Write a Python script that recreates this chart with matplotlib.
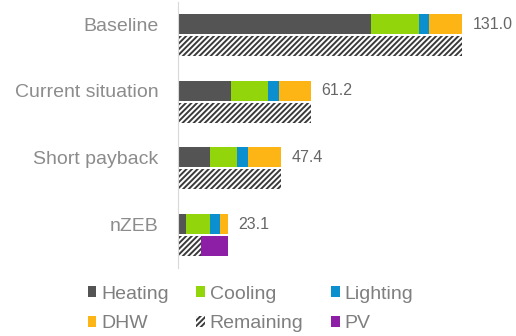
import matplotlib
matplotlib.use("Agg")
import matplotlib.pyplot as plt
import numpy as np

plt.rcParams['font.family'] = ['Liberation Sans', 'DejaVu Sans']
plt.rcParams['hatch.linewidth'] = 1.4

# data (kWh/m2 per year)
scenarios = ["Baseline", "Current situation", "Short payback", "nZEB"]
heating = [89.0, 24.6, 14.8, 3.6]
cooling = [22.1, 16.9, 12.5, 11.0]
lighting = [4.6, 4.9, 5.1, 5.0]
dhw = [15.3, 14.8, 15.0, 3.5]
remaining = [131.0, 61.2, 47.4, 10.8]
pv = [0.0, 0.0, 0.0, 12.3]
totals = [131.0, 61.2, 47.4, 23.1]

c_heat = "#545454"
c_cool = "#92d50a"
c_light = "#0b8fcf"
c_dhw = "#fdb515"
c_pv = "#8d1ea6"

fig = plt.figure(figsize=(5.16, 3.36), dpi=100)
ax = fig.add_axes([0.345, 0.201, 0.588, 0.794])

y = np.arange(len(scenarios))
top = y - 0.165
bot = y + 0.165
h = 0.3

bars = {}
left = np.zeros(len(scenarios))
for name, vals, c in [("Heating", heating, c_heat), ("Cooling", cooling, c_cool),
                      ("Lighting", lighting, c_light), ("DHW", dhw, c_dhw)]:
    bars[name] = ax.barh(top, vals, h, left=left, color=c, label=name)
    left += np.array(vals)

bars["Remaining"] = ax.barh(bot, remaining, h, color="white", edgecolor="#3a3a3a",
                            hatch="//////", linewidth=0, label="Remaining")
bars["PV"] = ax.barh(bot, pv, h, left=remaining, color=c_pv, label="PV")

for i, t in enumerate(totals):
    ax.annotate(f"{t:.1f}", xy=(t, top[i]), xytext=(7.5, 0), textcoords="offset points",
                va="center", ha="left", fontsize=11.5, color="#666666")

ax.set_xlim(0, 140)
ax.set_ylim(3.5, -0.5)
ax.set_yticks(top, scenarios)
ax.set_xticks([])
ax.tick_params(axis="y", length=0, pad=14, labelsize=14, labelcolor="#8c8c8c")
for s in ["top", "right", "bottom"]:
    ax.spines[s].set_visible(False)
ax.spines["left"].set_color("#d9d9d9")

order = ["Heating", "DHW", "Cooling", "Remaining", "Lighting", "PV"]
fig.legend([bars[k] for k in order], order, ncol=3, loc="upper left",
           bbox_to_anchor=(0.17, 0.150), frameon=False, fontsize=14,
           handlelength=0.45, handleheight=0.45, handletextpad=0.25,
           columnspacing=1.4, labelspacing=0.66, borderpad=0, borderaxespad=0,
           labelcolor="#7f7f7f")

fig.savefig("out.png", dpi=100)
